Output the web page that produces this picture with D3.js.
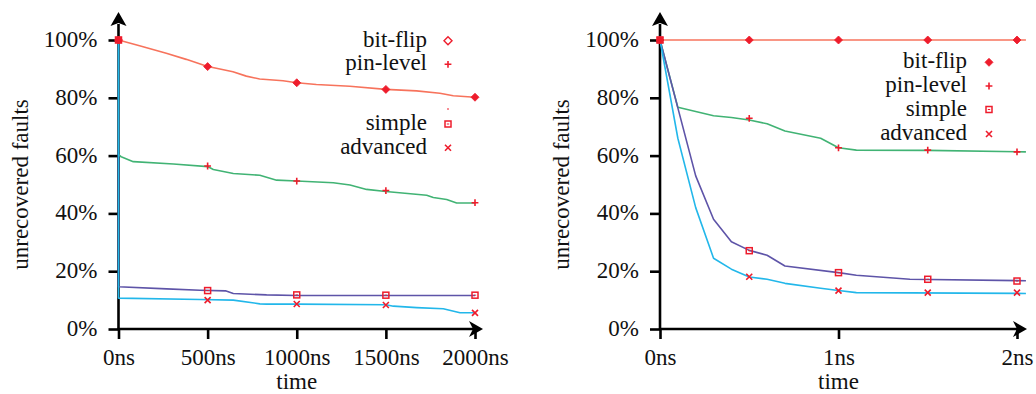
<!DOCTYPE html>
<html>
<head>
<meta charset="utf-8">
<script src="https://cdn.jsdelivr.net/npm/d3@7"></script>
<style>
body { margin: 0; background: #fff; }
</style>
</head>
<body>
<svg id="chart" width="1036" height="394"></svg>
<script>
// series in draw order
const seriesNames = ["bit-flip", "pin-level", "simple", "advanced"]
const yTicks = [0, 20, 40, 60, 80, 100]

// left panel: [time ns, unrecovered %]
const leftXTicks = [0, 500, 1000, 1500, 2000]
const leftBitFlip = [[0, 100], [118, 98.0], [268, 95.4], [380, 93.3], [500, 90.8], [549, 90.2], [642, 89.0], [717, 87.5], [792, 86.5], [923, 85.9], [1000, 85.2], [1110, 84.6], [1298, 84.0], [1500, 82.9], [1672, 82.4], [1803, 81.6], [1878, 80.7], [2000, 80.2]]
const leftPinLevel = [[0, 100], [0, 60.3], [15, 59.6], [83, 57.9], [308, 57.1], [500, 56.2], [532, 55.2], [644, 53.8], [793, 53.2], [887, 51.5], [1000, 51.2], [1205, 50.6], [1299, 49.8], [1392, 48.3], [1500, 47.6], [1729, 46.3], [1766, 45.5], [1841, 44.8], [1897, 43.6], [2000, 43.6]]
const leftSimple = [[0, 100], [0, 14.6], [270, 13.9], [457, 13.4], [600, 13.2], [644, 12.3], [831, 11.8], [1000, 11.6], [2000, 11.6]]
const leftAdvanced = [[0, 100], [0, 10.7], [457, 10.2], [644, 10.0], [793, 8.7], [831, 8.6], [1000, 8.6], [1500, 8.4], [1542, 7.9], [1673, 7.4], [1822, 7.0], [1916, 5.6], [2000, 5.6]]
const leftMarkTimes = [0, 500, 1000, 1500, 2000]
const leftMarkBitFlip = [100, 90.8, 85.2, 82.9, 80.2]
const leftMarkPinLevel = [100, 56.4, 51.2, 47.9, 43.7]
const leftMarkSimple = [100, 13.3, 11.8, 11.7, 11.7]
const leftMarkAdvanced = [100, 10.0, 8.65, 8.3, 5.6]

// right panel: [time ns, unrecovered %]
const rightXTicks = [0, 1, 2]
const rightBitFlip = [[0, 100], [2.05, 100]]
const rightPinLevel = [[0, 100], [0.1, 76.7], [0.3, 73.8], [0.4, 73.2], [0.5, 72.3], [0.6, 71.0], [0.7, 68.5], [0.9, 66.0], [1.0, 62.7], [1.1, 61.9], [1.5, 61.8], [2.05, 61.3]]
const rightSimple = [[0, 100], [0.1, 76.5], [0.2, 53], [0.3, 38], [0.4, 30.2], [0.5, 27.2], [0.6, 25.5], [0.7, 21.8], [1.0, 19.5], [1.1, 18.6], [1.4, 17.2], [2.05, 16.7]]
const rightAdvanced = [[0, 100], [0.1, 66], [0.2, 42], [0.3, 24.5], [0.4, 20.7], [0.5, 18.0], [0.6, 17.2], [0.7, 15.8], [0.9, 14.1], [1.0, 13.3], [1.1, 12.6], [2.05, 12.3]]
const rightMarkTimes = [0, 0.5, 1, 1.5, 2]
const rightMarkBitFlip = [100, 100, 100, 100, 100]
const rightMarkPinLevel = [100, 72.9, 62.7, 61.9, 61.3]
const rightMarkSimple = [100, 27.1, 19.5, 17.2, 16.6]
const rightMarkAdvanced = [100, 18.1, 13.3, 12.6, 12.6]

const lineColors = ["#f7735c", "#41b374", "#5e54a8", "#22b7ea"]
const markColor = "#ee1c2c"
const fontFamily = "'Liberation Serif', 'Times New Roman', Times, serif"

const svg = d3.select("#chart")
const plotTop = 40, plotBottom = 329

function styleText(sel) {
	return sel.style("font-family", fontFamily).style("font-size", "23px").style("fill", "#111")
}

function marker(g, type, x, y, hollow) {
	const s = 3.4
	if (type === "bit-flip") {
		g.append("path")
			.attr("d", `M${x},${y - s - 0.6}L${x + s + 0.6},${y}L${x},${y + s + 0.6}L${x - s - 0.6},${y}Z`)
			.attr("fill", hollow ? "#fff" : markColor)
			.attr("stroke", markColor).attr("stroke-width", hollow ? 1.4 : 0.8)
	} else if (type === "pin-level") {
		g.append("path")
			.attr("d", `M${x - s},${y}H${x + s}M${x},${y - s}V${y + s}`)
			.attr("stroke", markColor).attr("stroke-width", 1.6).attr("fill", "none")
	} else if (type === "simple") {
		g.append("rect")
			.attr("x", x - s + 0.4).attr("y", y - s + 0.4)
			.attr("width", 2 * s - 0.8).attr("height", 2 * s - 0.8)
			.attr("stroke", markColor).attr("stroke-width", 1.5).attr("fill", "none")
		g.append("path").attr("d", `M${x - 1.2},${y}H${x + 1.2}`)
			.attr("stroke", markColor).attr("stroke-width", 1)
	} else {
		g.append("path")
			.attr("d", `M${x - s + 0.4},${y - s + 0.4}L${x + s - 0.4},${y + s - 0.4}M${x + s - 0.4},${y - s + 0.4}L${x - s + 0.4},${y + s - 0.4}`)
			.attr("stroke", markColor).attr("stroke-width", 1.6).attr("fill", "none")
	}
}

function drawPanel(p) {
	const x = d3.scaleLinear().domain(p.xDomain).range(p.xRange)
	const y = d3.scaleLinear().domain([0, 100]).range([plotBottom, plotTop])
	const g = svg.append("g")
	const x0 = x(0)

	// axes
	const ya = g.append("g").attr("transform", `translate(${x0},0)`)
		.call(d3.axisLeft(y).tickValues(yTicks).tickSize(10).tickPadding(11).tickFormat(d => d + "%"))
	g.append("g").attr("transform", `translate(0,${plotBottom})`)
		.call(d3.axisBottom(x).tickValues(p.xTicks).tickSize(10).tickPadding(10).tickFormat(d => d + "ns"))
	g.selectAll(".domain").remove()
	g.selectAll(".tick line").attr("stroke", "#000").attr("stroke-width", 2.6)
	styleText(g.selectAll(".tick text"))
	ya.selectAll(".tick text").attr("dy", "0.28em")

	g.append("path").attr("d", `M${x0},${plotBottom}V24`).attr("stroke", "#000").attr("stroke-width", 2.6)
	g.append("path").attr("d", `M${x0},12L${x0 + 8},26L${x0},23L${x0 - 8},26Z`).attr("fill", "#000")
	g.append("path").attr("d", `M${x0 - 1},${plotBottom}H${p.xTip - 10}`).attr("stroke", "#000").attr("stroke-width", 2.6)
	g.append("path").attr("d", `M${p.xTip},${plotBottom}L${p.xTip - 14},${plotBottom - 8}L${p.xTip - 10},${plotBottom}L${p.xTip - 14},${plotBottom + 8}Z`).attr("fill", "#000")

	// titles
	styleText(g.append("text")).attr("text-anchor", "middle")
		.attr("transform", `translate(${p.yTitleX},${(plotTop + plotBottom) / 2}) rotate(-90)`)
		.text("unrecovered faults")
	styleText(g.append("text")).attr("text-anchor", "middle")
		.attr("x", (x(p.xTicks[0]) + x(p.xTicks[p.xTicks.length - 1])) / 2).attr("y", 389)
		.text("time")

	// lines
	const line = d3.line().x(d => x(d[0])).y(d => y(d[1]))
	p.lines.forEach((data, i) => {
		g.append("path").datum(data)
			.attr("fill", "none").attr("stroke", lineColors[i]).attr("stroke-width", 1.6)
			.attr("stroke-linejoin", "round")
			.attr("d", line)
	})

	// markers
	p.marks.forEach((vals, i) => {
		vals.forEach((v, j) => marker(g, seriesNames[i], x(p.markTimes[j]), y(v), false))
	})

	// legend
	seriesNames.forEach((name, i) => {
		const ly = p.legendY[i]
		styleText(g.append("text")).attr("text-anchor", "end").attr("x", p.legendTextX).attr("y", ly + 6).text(name)
		marker(g, name, p.legendMarkX, ly, p.hollowLegend && i === 0)
	})
	if (p.legendDashY) {
		g.append("path").attr("d", `M${p.legendMarkX - 1},${p.legendDashY}H${p.legendMarkX + 1}`)
			.attr("stroke", markColor).attr("stroke-width", 1)
	}
}

drawPanel({
	xDomain: [0, 2000], xRange: [118.5, 475], xTicks: leftXTicks, xTip: 483,
	yTitleX: 28,
	lines: [leftBitFlip, leftPinLevel, leftSimple, leftAdvanced],
	markTimes: leftMarkTimes,
	marks: [leftMarkBitFlip, leftMarkPinLevel, leftMarkSimple, leftMarkAdvanced],
	legendTextX: 427, legendMarkX: 448, legendY: [40.7, 64.3, 124, 147.7], legendDashY: 109,
	hollowLegend: true
})

drawPanel({
	xDomain: [0, 2], xRange: [660, 1017], xTicks: rightXTicks, xTip: 1027,
	yTitleX: 569,
	lines: [rightBitFlip, rightPinLevel, rightSimple, rightAdvanced],
	markTimes: rightMarkTimes,
	marks: [rightMarkBitFlip, rightMarkPinLevel, rightMarkSimple, rightMarkAdvanced],
	legendTextX: 967, legendMarkX: 989, legendY: [62.3, 86, 109.5, 134],
	hollowLegend: false
})
</script>
</body>
</html>
